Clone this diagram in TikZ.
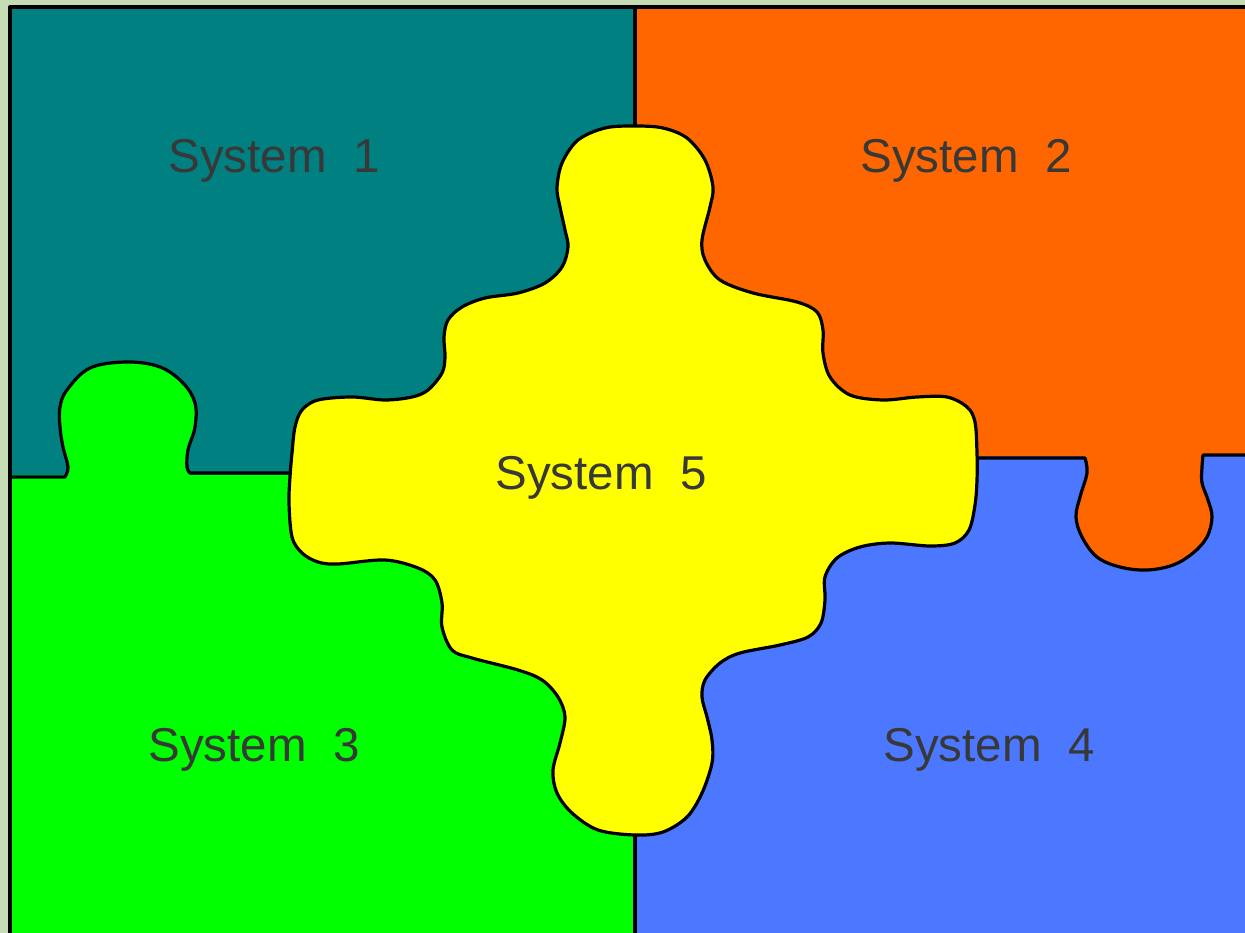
\documentclass[tikz,border=0pt]{standalone}
\usepackage{fontspec}
\setmainfont{Liberation Sans}
\begin{document}
\begin{tikzpicture}[x=1pt,y=-1pt,
  line join=round,
  outl/.style={draw=black,line width=3.2pt},
  lbl/.style={text=labelgray,font=\fontsize{47.5}{52}\selectfont,inner sep=0pt,anchor=base}]
\definecolor{bggreen}{HTML}{C6DCB4}
\definecolor{teal1}{HTML}{008080}
\definecolor{orange2}{HTML}{FF6600}
\definecolor{green3}{HTML}{00FF00}
\definecolor{blue4}{HTML}{4B78FF}
\definecolor{yellow5}{HTML}{FFFF00}
\definecolor{labelgray}{HTML}{383838}
\useasboundingbox (0,0) rectangle (1245,933);
\fill[bggreen] (0,0) rectangle (1245,933);
% quadrants
\fill[teal1] (10,7) rectangle (640,477);
\fill[orange2] (635,7) rectangle (1250,458);
\fill[green3] (10,475) rectangle (636,940);
\fill[blue4] (635,456) rectangle (1250,940);
% green tab
\fill[green3] plot[smooth,tension=0.6] coordinates {(65,477)(68,467)(63,447)(60,427)(60,407)(67,390)(90,368)(127,362)(160,367)(183,383)(195,403)(195,427)(188,450)(187,467)(190,473)} -- (190,480) -- (65,480) -- cycle;
\draw[outl] (10,477) -- (65,477) -- plot[smooth,tension=0.6] coordinates {(65,477)(68,467)(63,447)(60,427)(60,407)(67,390)(90,368)(127,362)(160,367)(183,383)(195,403)(195,427)(188,450)(187,467)(190,473)} -- (300,473);
% orange tab
\fill[orange2] plot[smooth,tension=0.6] coordinates {(1085,458)(1087,473)(1080,497)(1076,517)(1082,537)(1097,557)(1120,567)(1147,570)(1173,565)(1193,553)(1207,537)(1212,517)(1208,500)(1202,483)(1202,467)(1203,455)} -- (1203,450) -- (1085,450) -- cycle;
\draw[outl] (960,458) -- (1085,458) -- plot[smooth,tension=0.6] coordinates {(1085,458)(1087,473)(1080,497)(1076,517)(1082,537)(1097,557)(1120,567)(1147,570)(1173,565)(1193,553)(1207,537)(1212,517)(1208,500)(1202,483)(1202,467)(1203,455)} -- (1250,455);
% vertical divider
\draw[outl] (635,7) -- (635,200);
\draw[outl] (635,760) -- (635,940);
% yellow centre piece
\filldraw[outl,fill=yellow5] plot[smooth cycle,tension=0.55] coordinates {
(635,126)(663,128)(687,138)(705,160)(713,187)(710,207)(702,240)(705,260)(720,280)(753,293)(797,302)(817,312)(823,330)(823,353)(830,377)(850,395)(883,400)(917,397)(947,397)(967,407)(975,422)(977,453)(977,480)(975,505)(969,530)(955,543)(930,546)(890,543)(860,547)(837,558)(825,577)(825,600)(821,623)(808,637)(780,645)(740,653)(720,663)(705,680)(702,697)(707,717)(712,740)(712,763)(702,793)(687,817)(663,832)(635,835)(598,830)(572,813)(557,793)(553,770)(560,743)(565,717)(558,697)(542,680)(518,670)(472,658)(452,650)(442,627)(442,603)(435,580)(418,568)(385,560)(338,564)(318,562)(302,553)(292,537)(289,503)(290,477)(292,453)(295,427)(302,410)(318,400)(352,397)(385,400)(412,397)(428,390)(442,373)(445,357)(444,337)(448,320)(462,307)(485,298)(518,293)(545,283)(562,267)(568,247)(565,230)(560,207)(557,188)(562,163)(578,140)(605,128)};
% frame
\draw[outl] (10,940) -- (10,7) -- (1250,7);
% labels
\node[lbl] (s1) at (274,173) {System\ \ 1};
\node[lbl] (s2) at (966,173) {System\ \ 2};
\node[lbl] (s3) at (254,761) {System\ \ 3};
\node[lbl] (s4) at (989,761) {System\ \ 4};
\node[lbl] (s5) at (601,489) {System\ \ 5};
\end{tikzpicture}
\end{document}
